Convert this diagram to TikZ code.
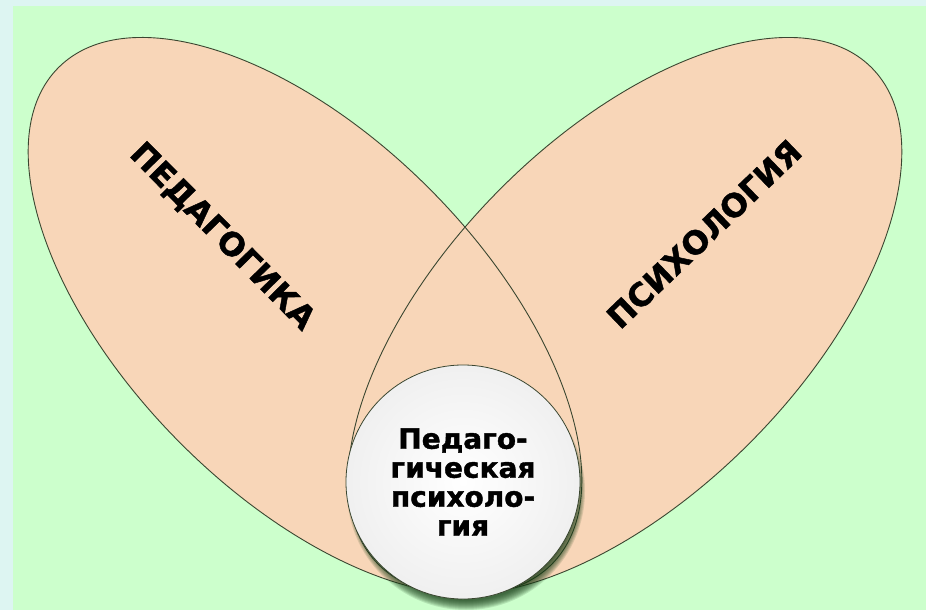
\documentclass[tikz,border=0pt]{standalone}
\usepackage{fontspec}
\setmainfont{DejaVu Sans}
\newfontfamily\heavyfont{DejaVu Sans}[BoldFeatures={FakeBold=1.4}]
\definecolor{bgcyan}{RGB}{221,245,242}
\definecolor{bggreen}{RGB}{204,255,204}
\definecolor{peach}{RGB}{248,214,184}
\definecolor{edgecol}{RGB}{58,70,48}
\definecolor{shadowgreen}{RGB}{20,60,20}
\tikzset{
  petalfill/.style={fill=peach},
  petaledge/.style={draw=edgecol, line width=0.9pt},
  biglabel/.style={font=\heavyfont\bfseries\fontsize{32}{32}\selectfont, inner sep=0pt},
  centrebox/.style={circle, minimum size=234pt, inner sep=0pt, draw=edgecol, line width=0.8pt,
     inner color=white, outer color=black!6, align=center,
     font=\heavyfont\bfseries\fontsize{28}{29}\selectfont}
}
\begin{document}
\begin{tikzpicture}[x=1pt,y=-1pt]
\useasboundingbox (0,0) rectangle (926,610);
\fill[bgcyan] (0,0) rectangle (926,610);
\fill[bggreen] (13,6) rectangle (926,610);
\coordinate (cl) at (305,316);
\coordinate (cr) at (625,316);
\fill[petalfill, rotate around={-45.3:(cl)}] (cl) ellipse [x radius=350pt, y radius=178pt];
\fill[petalfill, rotate around={45.3:(cr)}] (cr) ellipse [x radius=350pt, y radius=178pt];
\draw[petaledge, rotate around={-45.3:(cl)}] (cl) ellipse [x radius=350pt, y radius=178pt];
\draw[petaledge, rotate around={45.3:(cr)}] (cr) ellipse [x radius=350pt, y radius=178pt];
\node[biglabel, rotate=-45.4] (ped) at (222,237) {ПЕДАГОГИКА};
\node[biglabel, rotate=43.8] (psy) at (704,234) {ПСИХОЛОГИЯ};
\foreach \k in {0,...,9}{
  \fill[shadowgreen, opacity=0.13] (466,491) circle [radius={119pt-\k pt}];
}
\node[centrebox] (pp) at (463,482) {Педаго-\\гическая\\психоло-\\гия};
\end{tikzpicture}
\end{document}
